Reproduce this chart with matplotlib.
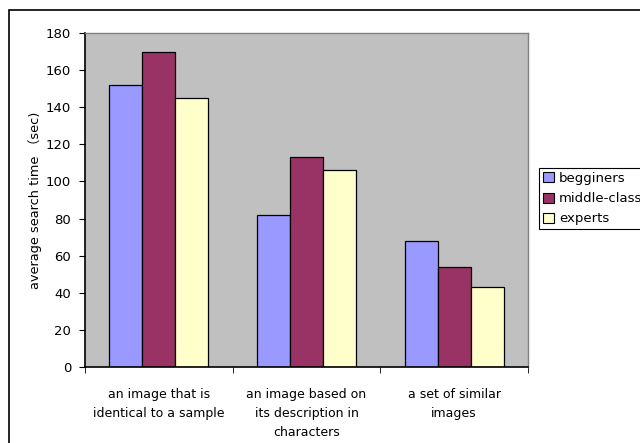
import matplotlib
matplotlib.use("Agg")
import matplotlib.pyplot as plt
import numpy as np
from matplotlib.patches import Rectangle

plt.rcParams['font.family'] = ['DejaVu Sans', 'Noto Sans CJK JP']

categories = ["an image that is\nidentical to a sample",
              "an image based on\nits description in\ncharacters",
              "a set of similar\nimages"]
series = ["begginers", "middle-class", "experts"]
begginers = [152, 81.7, 68]
middle_class = [170, 113, 54]
experts = [145, 106, 43.3]
colors = ["#9999FF", "#993366", "#FFFFCC"]

fig = plt.figure(figsize=(6.4, 4.43), dpi=100)
W, H = 640, 443
ax = fig.add_axes([85 / W, 1 - 367 / H, (528 - 85) / W, (367 - 33) / H])
ax.set_facecolor("#C0C0C0")

x = np.arange(len(categories))
w = 0.223
for i, (vals, name) in enumerate(zip([begginers, middle_class, experts], series)):
    ax.bar(x + (i - 1) * w, vals, w, color=colors[i], edgecolor="black",
           linewidth=0.9, label=name, zorder=2)

ax.set_xlim(-0.5, 2.5)
ax.set_ylim(0, 180)
ax.set_yticks(range(0, 181, 20))
ax.set_xticks(x)
ax.set_xticklabels(categories, fontsize=9, linespacing=1.6)
ax.set_xticks([-0.5, 0.5, 1.5, 2.5], minor=True)
ax.tick_params(axis="x", which="major", length=0, pad=15)
ax.tick_params(axis="x", which="minor", length=4, direction="out", color="black")
ax.tick_params(axis="y", length=4, direction="out", labelsize=9.5, pad=6)
ax.set_ylabel("average search time （sec)", fontsize=9.3, labelpad=3)

for s in ["top", "right"]:
    ax.spines[s].set_color("#808080")
    ax.spines[s].set_linewidth(1.0)
for s in ["left", "bottom"]:
    ax.spines[s].set_color("black")
    ax.spines[s].set_linewidth(1.2)

leg = ax.legend(loc="upper left", bbox_to_anchor=(539 / W, 1 - 168 / H),
                bbox_transform=fig.transFigure, fontsize=9.5, frameon=True,
                fancybox=False, edgecolor="black", framealpha=1,
                handlelength=0.8, handleheight=0.8, handletextpad=0.4,
                borderpad=0.3, labelspacing=0.55, borderaxespad=0)
leg.get_frame().set_linewidth(0.8)
for p in leg.get_patches():
    p.set_linewidth(0.8)

fig.patches.append(Rectangle((9 / W, -0.05), 1.1, 1 - 10 / H + 0.05,
                             transform=fig.transFigure, fill=False,
                             edgecolor="black", linewidth=1.2, zorder=0))

fig.savefig("out.png", dpi=100)
